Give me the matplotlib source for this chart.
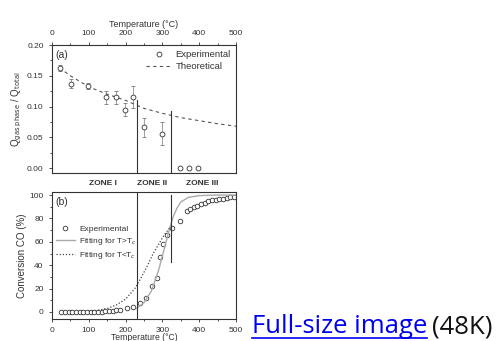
import numpy as np
import matplotlib
matplotlib.use('Agg')
import matplotlib.pyplot as plt
from matplotlib.lines import Line2D
from matplotlib.ticker import MultipleLocator

# --- panel (a): heat fraction released in gas phase ---
a_temp = [22, 51, 97, 147, 174, 198, 219, 250, 300, 348, 373, 396]
a_q = [0.162, 0.137, 0.133, 0.115, 0.115, 0.095, 0.115, 0.066, 0.056, 0.0, 0.0, 0.0]
a_err = [0.005, 0.007, 0.005, 0.011, 0.011, 0.010, 0.018, 0.016, 0.019, 0.0, 0.0, 0.0]
theo_temp = [20, 50, 100, 150, 200, 250, 300, 350, 400, 450, 500]
theo_q = [0.163, 0.150, 0.132, 0.120, 0.110, 0.097, 0.089, 0.082, 0.077, 0.072, 0.068]

# zone boundaries (°C) and how high the boundary lines reach
zone_bounds = [231, 323]
a_bound_top = [0.110, 0.092]
b_bound_bottom = [-6, 43]
b_bound_top = [102.6, 100]
zone_names = ['ZONE I', 'ZONE II', 'ZONE III']
zone_pos = [139, 272, 408]

# --- panel (b): CO conversion ---
b_temp = [25, 35, 45, 55, 65, 75, 85, 95, 105, 115, 125, 135, 145, 155, 165, 175, 185,
          203, 221, 239, 255, 271, 284, 293, 302, 312, 325, 348, 366, 375, 385, 395,
          405, 415, 425, 435, 445, 455, 465, 475, 485, 495]
b_conv = [0, 0, 0, 0, 0, 0, 0, 0, 0, 0, 0, 0.3, 0.5, 0.7, 1.0, 1.3, 1.8,
          3.0, 4.0, 7.5, 12, 22, 29, 47, 58, 66, 72, 78, 86, 88, 90, 91,
          92.5, 93.5, 94.5, 95.5, 96, 96.5, 97, 97.5, 98, 98.5]
fit_hi_temp = [230, 250, 270, 290, 300, 310, 320, 330, 340, 350, 370, 400, 450, 500]
fit_hi_conv = [3, 8, 18, 36, 48, 60, 72, 82, 89, 94, 98, 99.5, 100, 100]
fit_lo_temp = [100, 125, 150, 175, 200, 225, 240, 260, 275, 290, 305, 320]
fit_lo_conv = [0.5, 1.5, 3, 6, 11, 20, 28, 40, 50, 58, 66, 72]

plt.rcParams['font.family'] = ['Liberation Sans', 'DejaVu Sans']
ink = '#333333'
W, H = 498, 341
fig = plt.figure(figsize=(W / 100, H / 100), dpi=100, facecolor='white')

ax_a = fig.add_axes([52 / W, 1 - 173 / H, 184 / W, 128 / H])
ax_b = fig.add_axes([52 / W, 1 - 319 / H, 184 / W, 127 / H])

for ax in (ax_a, ax_b):
    ax.set_xlim(0, 500)
    ax.xaxis.set_major_locator(MultipleLocator(100))
    ax.xaxis.set_minor_locator(MultipleLocator(50))
    for s in ax.spines.values():
        s.set_color(ink)
        s.set_linewidth(0.8)
    ax.tick_params(which='both', colors=ink, labelsize=6, width=0.6, direction='out')
    ax.tick_params(which='major', length=2.5)
    ax.tick_params(which='minor', length=1.5)

# panel (a)
ax_a.set_ylim(-0.008, 0.20)
ax_a.yaxis.set_major_locator(MultipleLocator(0.05))
ax_a.yaxis.set_minor_locator(MultipleLocator(0.025))
ax_a.yaxis.set_major_formatter(matplotlib.ticker.FormatStrFormatter('%.2f'))
ax_a.xaxis.tick_top()
ax_a.xaxis.set_label_position('top')
ax_a.set_xlabel('Temperature (°C)', fontsize=6.5, color=ink, labelpad=2)
ax_a.set_ylabel(r'Q$_{\mathrm{gas\ phase}}$ / Q$_{\mathrm{total}}$', fontsize=7, color=ink, labelpad=2)
ax_a.errorbar(a_temp, a_q, yerr=a_err, fmt='o', ms=3.5, mfc='white', mec=ink, mew=0.6,
              ecolor='#777777', elinewidth=0.5, capsize=1.2, capthick=0.5,
              label='Experimental')
ax_a.plot(theo_temp, theo_q, ls=(0, (3, 3)), color='#555555', lw=0.8, label='Theoretical')
for x, top in zip(zone_bounds, a_bound_top):
    ax_a.plot([x, x], [-0.008, top], color=ink, lw=0.8)
ax_a.text(0.02, 0.96, '(a)', transform=ax_a.transAxes, fontsize=7.5, color=ink, va='top')
h, l = ax_a.get_legend_handles_labels()
ax_a.legend([Line2D([], [], ls='none', marker='o', ms=3.5, mfc='white', mec=ink, mew=0.6),
             h[0]], ['Experimental', 'Theoretical'], loc='upper right', frameon=False,
            fontsize=6.8, handlelength=2.6, handletextpad=0.5, labelspacing=0.3,
            borderaxespad=0.15, labelcolor=ink)

# panel (b)
ax_b.set_ylim(-6, 102.6)
ax_b.yaxis.set_major_locator(MultipleLocator(20))
ax_b.yaxis.set_minor_locator(MultipleLocator(10))
ax_b.set_xlabel('Temperature (°C)', fontsize=6.2, color=ink, labelpad=-1)
ax_b.set_ylabel('Conversion CO (%)', fontsize=7, color=ink, labelpad=2)
ax_b.plot(b_temp, b_conv, 'o', ms=3.3, mfc='white', mec=ink, mew=0.6, label='Experimental')
ax_b.plot(fit_hi_temp, fit_hi_conv, '-', color='#aaaaaa', lw=1.0, label='Fitting for T>T$_c$')
ax_b.plot(fit_lo_temp, fit_lo_conv, ls=(0, (1, 1.5)), color='#444444', lw=0.9,
          label='Fitting for T<T$_c$')
for x, lo, hi in zip(zone_bounds, b_bound_bottom, b_bound_top):
    ax_b.plot([x, x], [lo, hi], color=ink, lw=0.8)
ax_b.text(0.02, 0.96, '(b)', transform=ax_b.transAxes, fontsize=7.5, color=ink, va='top')
ax_b.legend(loc='center left', bbox_to_anchor=(-0.02, 0.6), frameon=False, fontsize=6,
            handlelength=2.3, handletextpad=0.5, labelspacing=0.35, labelcolor=ink)
for name, x in zip(zone_names, zone_pos):
    ax_b.text(x, 1.07, name, transform=ax_b.get_xaxis_transform(), ha='center',
              va='center', fontsize=6, color=ink, fontweight='bold')

# link text beside the thumbnail
link = fig.text(252 / W, 1 - 333 / H, 'Full-size image', fontsize=18.5, family='Open Sans',
                color='#0000ee', va='baseline')
fig.canvas.draw()
bb = link.get_window_extent()
tail = fig.text((bb.x1 + 5) / W, 1 - 333 / H, '(48K)', fontsize=18.5, family='Open Sans',
                color='#111111', va='baseline')
uy = 1 - 337.5 / H
fig.add_artist(Line2D([bb.x0 / W, bb.x1 / W], [uy, uy], color='#0000ee', lw=1.2))

fig.savefig('out.png', dpi=100, facecolor='white')
